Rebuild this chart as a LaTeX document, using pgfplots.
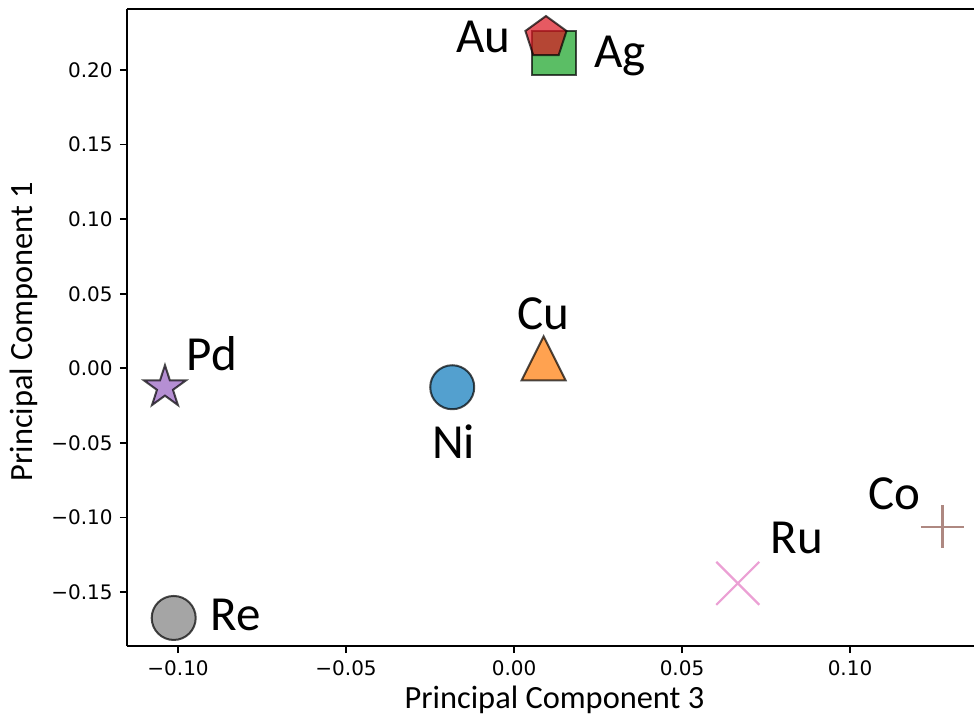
\documentclass[border=0pt]{standalone}
\usepackage{pgfplots}
\pgfplotsset{compat=1.18}
\usepackage{fontspec}
\setmainfont{Carlito}
\newfontfamily\dejavu{DejaVu Sans}
\usetikzlibrary{plotmarks}

\definecolor{tblue}{HTML}{0A77BA}
\definecolor{torange}{HTML}{FF7A05}
\definecolor{tgreen}{HTML}{16A324}
\definecolor{tred}{HTML}{DC1420}
\definecolor{tpurple}{HTML}{9660C0}
\definecolor{tbrown}{HTML}{8C564B}
\definecolor{tpink}{HTML}{E377C2}
\definecolor{tgray}{HTML}{7F7F7F}

\pgfdeclareplotmark{mpent}{%
  \pgfpathmoveto{\pgfqpointpolar{90}{\pgfplotmarksize}}%
  \pgfpathlineto{\pgfqpointpolar{162}{\pgfplotmarksize}}%
  \pgfpathlineto{\pgfqpointpolar{234}{\pgfplotmarksize}}%
  \pgfpathlineto{\pgfqpointpolar{306}{\pgfplotmarksize}}%
  \pgfpathlineto{\pgfqpointpolar{18}{\pgfplotmarksize}}%
  \pgfpathclose
  \pgfusepathqfillstroke}
\pgfdeclareplotmark{mstar}{%
  \pgfpathmoveto{\pgfqpointpolar{90}{\pgfplotmarksize}}%
  \pgfpathlineto{\pgfqpointpolar{126}{0.382\pgfplotmarksize}}%
  \pgfpathlineto{\pgfqpointpolar{162}{\pgfplotmarksize}}%
  \pgfpathlineto{\pgfqpointpolar{198}{0.382\pgfplotmarksize}}%
  \pgfpathlineto{\pgfqpointpolar{234}{\pgfplotmarksize}}%
  \pgfpathlineto{\pgfqpointpolar{270}{0.382\pgfplotmarksize}}%
  \pgfpathlineto{\pgfqpointpolar{306}{\pgfplotmarksize}}%
  \pgfpathlineto{\pgfqpointpolar{342}{0.382\pgfplotmarksize}}%
  \pgfpathlineto{\pgfqpointpolar{18}{\pgfplotmarksize}}%
  \pgfpathlineto{\pgfqpointpolar{54}{0.382\pgfplotmarksize}}%
  \pgfpathclose
  \pgfusepathqfillstroke}
\pgfdeclareplotmark{mtri}{%
  \pgfpathmoveto{\pgfqpoint{0pt}{\pgfplotmarksize}}%
  \pgfpathlineto{\pgfqpoint{-\pgfplotmarksize}{-\pgfplotmarksize}}%
  \pgfpathlineto{\pgfqpoint{\pgfplotmarksize}{-\pgfplotmarksize}}%
  \pgfpathclose
  \pgfusepathqfillstroke}
\pgfdeclareplotmark{mx}{%
  \pgfpathmoveto{\pgfqpoint{-\pgfplotmarksize}{-\pgfplotmarksize}}%
  \pgfpathlineto{\pgfqpoint{\pgfplotmarksize}{\pgfplotmarksize}}%
  \pgfpathmoveto{\pgfqpoint{-\pgfplotmarksize}{\pgfplotmarksize}}%
  \pgfpathlineto{\pgfqpoint{\pgfplotmarksize}{-\pgfplotmarksize}}%
  \pgfusepathqstroke}
\pgfdeclareplotmark{mplus}{%
  \pgfpathmoveto{\pgfqpoint{-\pgfplotmarksize}{0pt}}%
  \pgfpathlineto{\pgfqpoint{\pgfplotmarksize}{0pt}}%
  \pgfpathmoveto{\pgfqpoint{0pt}{\pgfplotmarksize}}%
  \pgfpathlineto{\pgfqpoint{0pt}{-\pgfplotmarksize}}%
  \pgfusepathqstroke}

\tikzset{
  mk/.style={line width=1pt, line join=miter, draw=black, draw opacity=0.7, fill opacity=0.7, fill=#1},
  ml/.style={line width=1.1pt, draw=#1, draw opacity=0.7},
}

\begin{document}
\begin{tikzpicture}
\begin{axis}[
  name=ax,
  scale only axis,
  width=423.5pt, height=318.5pt,
  xmin=-0.1152, xmax=0.1369,
  ymin=-0.1862, ymax=0.2409,
  axis x line*=box, axis y line*=left,
  axis line style={line width=0.8pt, black},
  tick align=outside,
  xtick pos=bottom, ytick pos=left,
  major tick length=3.5pt,
  tick style={line width=0.8pt, black},
  xtick={-0.10,-0.05,0,0.05,0.10},
  xticklabels={−0.10,−0.05,0.00,0.05,0.10},
  ytick={-0.15,-0.10,-0.05,0,0.05,0.10,0.15,0.20},
  yticklabels={−0.15,−0.10,−0.05,0.00,0.05,0.10,0.15,0.20},
  tick label style={font=\dejavu\fontsize{10}{12}\selectfont, inner sep=0pt},
  xticklabel style={yshift=-3.5pt},
  yticklabel style={xshift=-3.5pt},
  xlabel={Principal Component 3},
  ylabel={Principal Component 1},
  xlabel style={font=\fontsize{16.2}{19}\selectfont, inner sep=0pt, anchor=base,
    at={([xshift=2pt,yshift=-31pt]axis description cs:0.5,0)}},
  ylabel style={font=\fontsize{16.2}{19}\selectfont, inner sep=0pt, anchor=base,
    at={([xshift=-47pt,yshift=-2pt]axis description cs:0,0.5)}},
  clip=false,
  only marks,
]
% Ni
\addplot[mark=*, mark size=11pt, mark options={mk=tblue}] coordinates {(-0.0184,-0.0127)};
% Cu
\addplot[mark=mtri, mark size=11pt, mark options={mk=torange}] coordinates {(0.0088,0.0067)};
% Ag
\addplot[mark=square*, mark size=11pt, mark options={mk=tgreen}] coordinates {(0.0119,0.2111)};
% Au
\addplot[mark=mpent, mark size=10.8pt, mark options={mk=tred}] coordinates {(0.0095,0.2217)};
% Pd
\addplot[mark=mstar, mark size=11pt, mark options={mk=tpurple}] coordinates {(-0.1039,-0.0127)};
% Co
\addplot[mark=mplus, mark size=10.75pt, mark options={ml=tbrown}] coordinates {(0.1275,-0.1062)};
% Ru
\addplot[mark=mx, mark size=10.75pt, mark options={ml=tpink}] coordinates {(0.0666,-0.1442)};
% Re
\addplot[mark=*, mark size=11pt, mark options={mk=tgray}] coordinates {(-0.1013,-0.1674)};

\begin{scope}[every node/.style={font=\fontsize{24.5}{28}\selectfont, inner sep=0pt}]
\node[anchor=base east] at (axis cs:-0.0009,0.2114) {Au};
\node[anchor=base west] at (axis cs:0.0238,0.2020) {Ag};
\node[anchor=base] at (axis cs:0.0086,0.0261) {Cu};
\node[anchor=base west] at (axis cs:-0.0976,-0.0013) {Pd};
\node[anchor=base] at (axis cs:-0.0180,-0.0603) {Ni};
\node[anchor=base west] at (axis cs:-0.0905,-0.1761) {Re};
\node[anchor=base west] at (axis cs:0.0762,-0.1245) {Ru};
\node[anchor=base west] at (axis cs:0.1054,-0.0946) {Co};
\end{scope}
\end{axis}
\pgfresetboundingbox
\path[use as bounding box] ([xshift=-63.5pt,yshift=-36.5pt]ax.south west) rectangle ([yshift=4.5pt]ax.north east);
\end{tikzpicture}
\end{document}
